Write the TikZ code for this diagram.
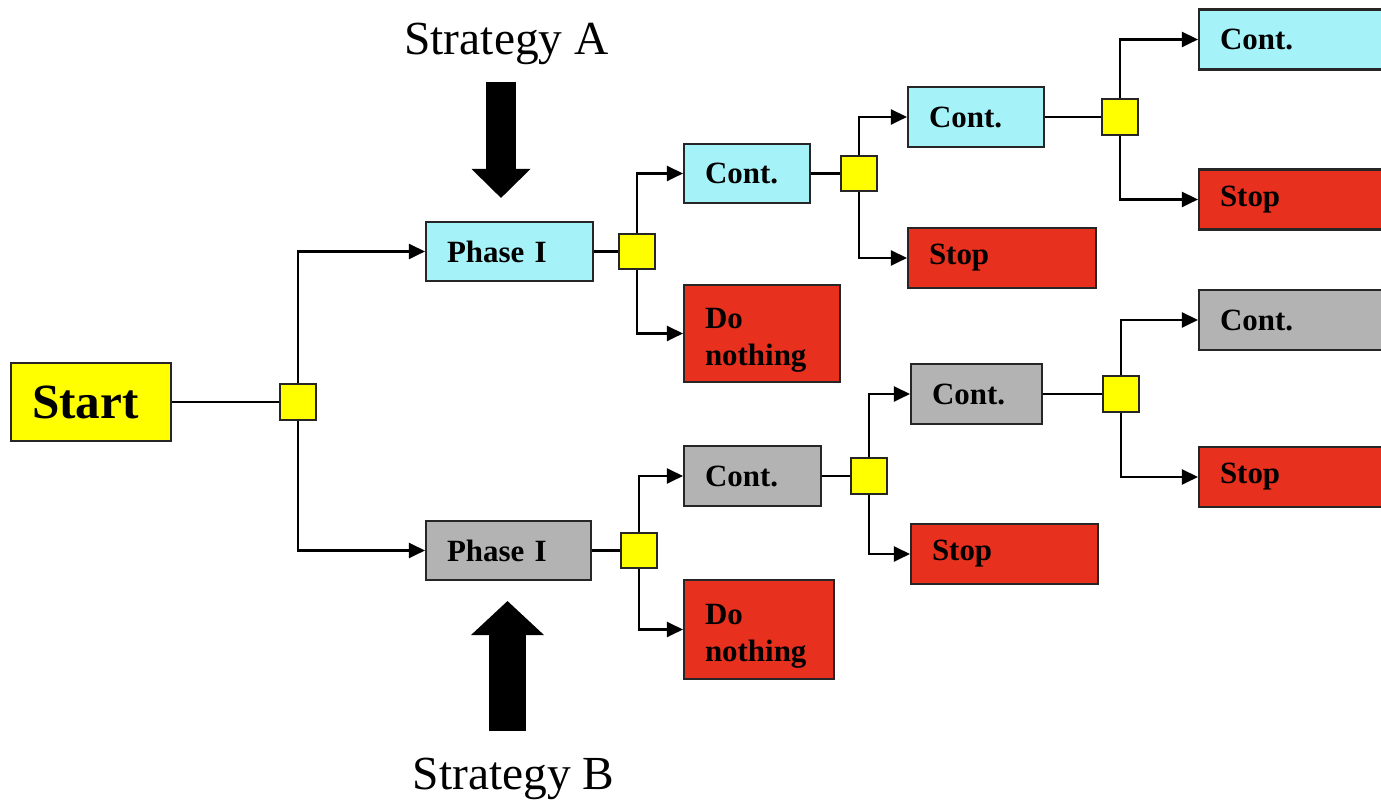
\documentclass[tikz,border=0pt]{standalone}
\usepackage{fontspec}
\setmainfont{Liberation Serif}
\usetikzlibrary{arrows.meta}
\definecolor{sky}{HTML}{A5F2F8}
\definecolor{brick}{HTML}{E8301F}
\definecolor{ash}{HTML}{B3B3B3}
\definecolor{lemon}{HTML}{FFFF00}

\begin{document}
\begin{tikzpicture}[x=1cm,y=1cm,
  box/.style={rectangle,draw=black!85,line width=0.6pt,minimum height=0.59cm,inner xsep=0.21cm,inner ysep=0pt,align=left,font=\fontsize{8.8}{10.5}\selectfont\bfseries},
  jn/.style={rectangle,draw=black!85,line width=0.6pt,fill=lemon,minimum size=0.355cm,inner sep=0pt},
  link/.style={-{Triangle[length=4.6pt,width=4.3pt]},line width=0.7pt},
  tie/.style={line width=0.7pt},
  bigarrow/.style={line width=#1}]
\useasboundingbox (0,0) rectangle (13.81,-8.01);
\node[box,fill=lemon,text width=1.18cm,minimum height=0.78cm,font=\fontsize{14}{16}\selectfont\bfseries] (st) at (0.91,-4.02) {Start};
\node[jn] (j0) at (2.98,-4.02) {};
% strategy A branch
\node[box,fill=sky,text width=1.25cm] (pha) at (5.095,-2.515) {Phase I};
\node[jn] (ja1) at (6.37,-2.515) {};
\node[box,fill=sky,text width=0.84cm] (ca1) at (7.47,-1.735) {Cont.};
\node[box,fill=brick,text width=1.14cm,minimum height=0.97cm] (da) at (7.62,-3.335) {\rule{0pt}{0.33cm}Do\\nothing};
\node[jn] (ja2) at (8.59,-1.735) {};
\node[box,fill=sky,text width=0.94cm,minimum height=0.60cm] (ca2) at (9.76,-1.17) {Cont.};
\node[box,fill=brick,text width=1.46cm,minimum height=0.60cm] (sa2) at (10.02,-2.58) {Stop};
\node[jn] (ja3) at (11.20,-1.17) {};
\node[box,fill=sky,text width=1.54cm,minimum height=0.60cm] (ca3) at (12.97,-0.395) {Cont.};
\node[box,fill=brick,text width=1.54cm,minimum height=0.60cm] (sa3) at (12.97,-1.995) {Stop};
% strategy B branch
\node[box,fill=ash,text width=1.23cm] (phb) at (5.085,-5.505) {Phase I};
\node[jn] (jb1) at (6.39,-5.505) {};
\node[box,fill=ash,text width=0.95cm,minimum height=0.60cm] (cb1) at (7.525,-4.76) {Cont.};
\node[box,fill=brick,text width=1.08cm,minimum height=0.99cm] (db) at (7.59,-6.295) {\rule{0pt}{0.33cm}Do\\nothing};
\node[jn] (jb2) at (8.69,-4.76) {};
\node[box,fill=ash,text width=0.89cm,minimum height=0.60cm] (cb2) at (9.765,-3.94) {Cont.};
\node[box,fill=brick,text width=1.45cm,minimum height=0.60cm] (sb2) at (10.045,-5.54) {Stop};
\node[jn] (jb3) at (11.21,-3.94) {};
\node[box,fill=ash,text width=1.54cm,minimum height=0.60cm] (cb3) at (12.97,-3.20) {Cont.};
\node[box,fill=brick,text width=1.54cm,minimum height=0.60cm] (sb3) at (12.97,-4.77) {Stop};
% strategy labels
\node[anchor=base,font=\fontsize{13.5}{15}\selectfont] (stratA) at (5.065,-0.55) {Strategy A};
\node[anchor=base,font=\fontsize{13.5}{15}\selectfont] (stratB) at (5.135,-7.89) {Strategy B};
\coordinate (tailA) at (5.01,-0.82);
\coordinate (tailB) at (5.075,-7.31);
\draw[bigarrow=0.30cm,-{Triangle[length=0.29cm,width=0.59cm,line width=0pt]},shorten >=0.23cm] (tailA) -- (tailA |- pha.north);
\draw[bigarrow=0.37cm,-{Triangle[length=0.34cm,width=0.73cm,line width=0pt]},shorten >=0.20cm] (tailB) -- (tailB |- phb.south);
% connectors
\draw[tie] (st) -- (j0);
\draw[link] (j0) |- (pha);
\draw[link] (j0) |- (phb);
\draw[tie] (pha) -- (ja1);
\draw[link] (ja1) |- (ca1);
\draw[link] (ja1) |- (da);
\draw[tie] (ca1) -- (ja2);
\draw[link] (ja2) |- (ca2);
\draw[link] (ja2) |- (sa2);
\draw[tie] (ca2) -- (ja3);
\draw[link] (ja3) |- (ca3);
\draw[link] (ja3) |- (sa3);
\draw[tie] (phb) -- (jb1);
\draw[link] (jb1) |- (cb1);
\draw[link] (jb1) |- (db);
\draw[tie] (cb1) -- (jb2);
\draw[link] (jb2) |- (cb2);
\draw[link] (jb2) |- (sb2);
\draw[tie] (cb2) -- (jb3);
\draw[link] (jb3) |- (cb3);
\draw[link] (jb3) |- (sb3);
\end{tikzpicture}
\end{document}
